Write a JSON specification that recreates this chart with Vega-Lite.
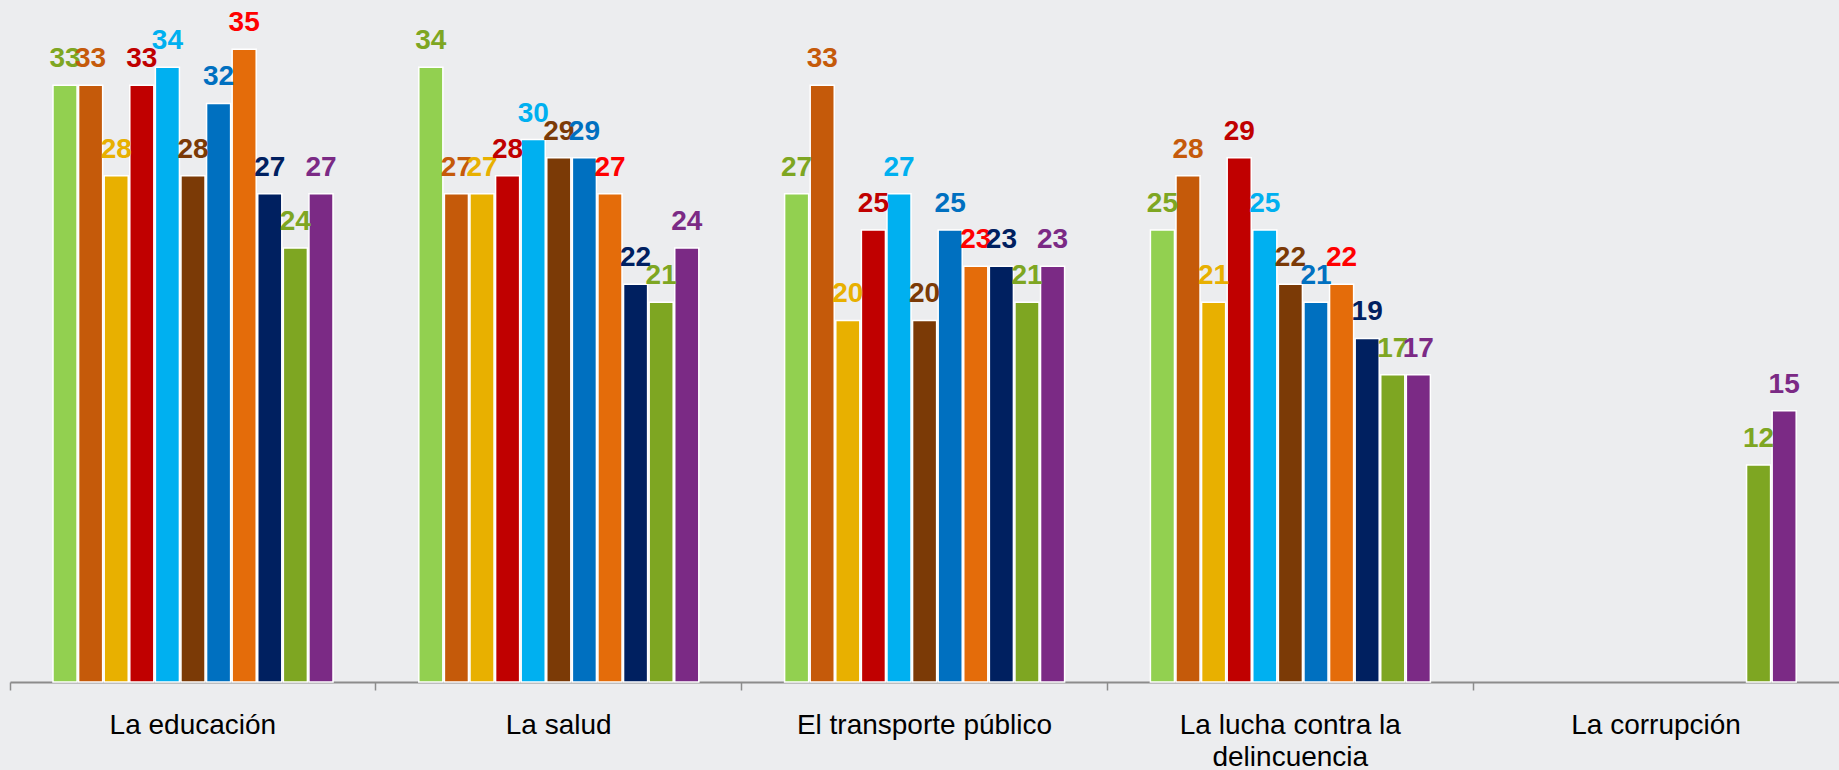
{
  "$schema": "https://vega.github.io/schema/vega-lite/v6.json",
  "width": 1829,
  "height": 682,
  "autosize": {"type": "none"},
  "padding": {"left": 10, "top": 0, "right": 0, "bottom": 88},
  "background": "#ECEDEF",
  "config": {
    "view": {"stroke": null},
    "font": "Liberation Sans"
  },
  "data": {
    "values": [
      {"cat": "La educación", "serie": "S01", "value": 33},
      {"cat": "La educación", "serie": "S02", "value": 33},
      {"cat": "La educación", "serie": "S03", "value": 28},
      {"cat": "La educación", "serie": "S04", "value": 33},
      {"cat": "La educación", "serie": "S05", "value": 34},
      {"cat": "La educación", "serie": "S06", "value": 28},
      {"cat": "La educación", "serie": "S07", "value": 32},
      {"cat": "La educación", "serie": "S08", "value": 35},
      {"cat": "La educación", "serie": "S09", "value": 27},
      {"cat": "La educación", "serie": "S10", "value": 24},
      {"cat": "La educación", "serie": "S11", "value": 27},
      {"cat": "La salud", "serie": "S01", "value": 34},
      {"cat": "La salud", "serie": "S02", "value": 27},
      {"cat": "La salud", "serie": "S03", "value": 27},
      {"cat": "La salud", "serie": "S04", "value": 28},
      {"cat": "La salud", "serie": "S05", "value": 30},
      {"cat": "La salud", "serie": "S06", "value": 29},
      {"cat": "La salud", "serie": "S07", "value": 29},
      {"cat": "La salud", "serie": "S08", "value": 27},
      {"cat": "La salud", "serie": "S09", "value": 22},
      {"cat": "La salud", "serie": "S10", "value": 21},
      {"cat": "La salud", "serie": "S11", "value": 24},
      {"cat": "El transporte público", "serie": "S01", "value": 27},
      {"cat": "El transporte público", "serie": "S02", "value": 33},
      {"cat": "El transporte público", "serie": "S03", "value": 20},
      {"cat": "El transporte público", "serie": "S04", "value": 25},
      {"cat": "El transporte público", "serie": "S05", "value": 27},
      {"cat": "El transporte público", "serie": "S06", "value": 20},
      {"cat": "El transporte público", "serie": "S07", "value": 25},
      {"cat": "El transporte público", "serie": "S08", "value": 23},
      {"cat": "El transporte público", "serie": "S09", "value": 23},
      {"cat": "El transporte público", "serie": "S10", "value": 21},
      {"cat": "El transporte público", "serie": "S11", "value": 23},
      {"cat": "La lucha contra la delincuencia", "serie": "S01", "value": 25},
      {"cat": "La lucha contra la delincuencia", "serie": "S02", "value": 28},
      {"cat": "La lucha contra la delincuencia", "serie": "S03", "value": 21},
      {"cat": "La lucha contra la delincuencia", "serie": "S04", "value": 29},
      {"cat": "La lucha contra la delincuencia", "serie": "S05", "value": 25},
      {"cat": "La lucha contra la delincuencia", "serie": "S06", "value": 22},
      {"cat": "La lucha contra la delincuencia", "serie": "S07", "value": 21},
      {"cat": "La lucha contra la delincuencia", "serie": "S08", "value": 22},
      {"cat": "La lucha contra la delincuencia", "serie": "S09", "value": 19},
      {"cat": "La lucha contra la delincuencia", "serie": "S10", "value": 17},
      {"cat": "La lucha contra la delincuencia", "serie": "S11", "value": 17},
      {"cat": "La corrupción", "serie": "S10", "value": 12},
      {"cat": "La corrupción", "serie": "S11", "value": 15}
    ]
  },
  "encoding": {
    "x": {
      "field": "cat",
      "type": "nominal",
      "sort": ["La educación", "La salud", "El transporte público", "La lucha contra la delincuencia", "La corrupción"],
      "scale": {"paddingInner": 0, "paddingOuter": 0},
      "axis": {
        "title": null,
        "labelAngle": 0,
        "bandPosition": 0,
        "labelAlign": "center",
        "labelBaseline": "alphabetic",
        "labelPadding": 43,
        "labelFontSize": 28,
        "labelFont": "Liberation Sans",
        "labelColor": "#000000",
        "labelLineHeight": 32,
        "labelLimit": 0,
        "labelOverlap": false,
        "labelExpr": "datum.label == 'La lucha contra la delincuencia' ? ['La lucha contra la', 'delincuencia'] : datum.label",
        "domainColor": "#8C8C8C",
        "domainWidth": 2,
        "tickColor": "#8C8C8C",
        "tickWidth": 1.5,
        "tickSize": 8,
        "grid": false
      }
    },
    "xOffset": {
      "field": "serie",
      "type": "nominal",
      "scale": {
        "domain": ["S01", "S02", "S03", "S04", "S05", "S06", "S07", "S08", "S09", "S10", "S11"],
        "range": [43, 323],
        "paddingInner": 0.06,
        "paddingOuter": 0
      }
    },
    "y": {
      "field": "value",
      "type": "quantitative",
      "scale": {"domain": [0, 37.72], "nice": false, "zero": true},
      "axis": null
    }
  },
  "layer": [
    {
      "mark": {"type": "bar", "stroke": "#FFFFFF", "strokeWidth": 1.5},
      "encoding": {
        "color": {
          "field": "serie",
          "type": "nominal",
          "legend": null,
          "scale": {
            "domain": ["S01", "S02", "S03", "S04", "S05", "S06", "S07", "S08", "S09", "S10", "S11"],
            "range": ["#92D050", "#C55A0A", "#E8B000", "#C00000", "#00B0F0", "#7B3A06", "#0070C0", "#E46C0A", "#002060", "#7EA622", "#7B2A85"]
          }
        }
      }
    },
    {
      "mark": {"type": "text", "baseline": "alphabetic", "align": "center", "dy": -18, "fontSize": 28, "fontWeight": "bold", "font": "Liberation Sans"},
      "encoding": {
        "text": {"field": "value", "type": "quantitative"},
        "color": {
          "field": "serie",
          "type": "nominal",
          "legend": null,
          "scale": {
            "domain": ["S01", "S02", "S03", "S04", "S05", "S06", "S07", "S08", "S09", "S10", "S11"],
            "range": ["#7EA622", "#C55A0A", "#E8B000", "#C00000", "#00B0F0", "#7B3A06", "#0070C0", "#FF0000", "#002060", "#7EA622", "#7B2A85"]
          }
        }
      }
    }
  ],
  "resolve": {"scale": {"color": "independent"}}
}
